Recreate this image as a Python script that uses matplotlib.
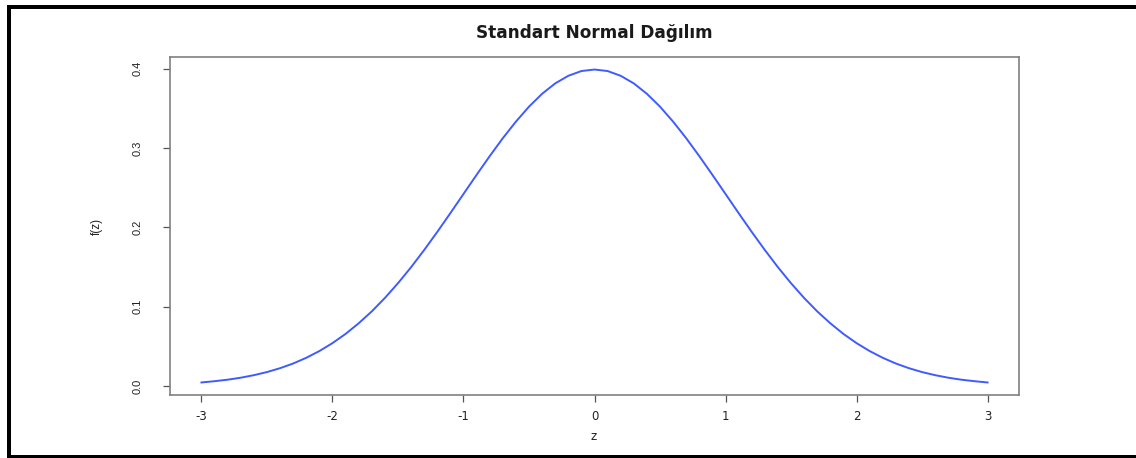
import matplotlib
matplotlib.use("Agg")
import matplotlib.pyplot as plt
from matplotlib.lines import Line2D

# z values and density values
z = [-3.0, -2.9, -2.8, -2.7, -2.6, -2.5, -2.4, -2.3, -2.2, -2.1,
     -2.0, -1.9, -1.8, -1.7, -1.6, -1.5, -1.4, -1.3, -1.2, -1.1,
     -1.0, -0.9, -0.8, -0.7, -0.6, -0.5, -0.4, -0.3, -0.2, -0.1,
     0.0,
     0.1, 0.2, 0.3, 0.4, 0.5, 0.6, 0.7, 0.8, 0.9, 1.0,
     1.1, 1.2, 1.3, 1.4, 1.5, 1.6, 1.7, 1.8, 1.9, 2.0,
     2.1, 2.2, 2.3, 2.4, 2.5, 2.6, 2.7, 2.8, 2.9, 3.0]
fz = [0.0044, 0.0060, 0.0079, 0.0104, 0.0136, 0.0175, 0.0224, 0.0283, 0.0355, 0.0440,
      0.0540, 0.0656, 0.0790, 0.0940, 0.1109, 0.1295, 0.1497, 0.1714, 0.1942, 0.2179,
      0.2420, 0.2661, 0.2897, 0.3123, 0.3332, 0.3521, 0.3683, 0.3814, 0.3910, 0.3970,
      0.3989,
      0.3970, 0.3910, 0.3814, 0.3683, 0.3521, 0.3332, 0.3123, 0.2897, 0.2661, 0.2420,
      0.2179, 0.1942, 0.1714, 0.1497, 0.1295, 0.1109, 0.0940, 0.0790, 0.0656, 0.0540,
      0.0440, 0.0355, 0.0283, 0.0224, 0.0175, 0.0136, 0.0104, 0.0079, 0.0060, 0.0044]

xticks = [-3, -2, -1, 0, 1, 2, 3]
yticks = [0.0, 0.1, 0.2, 0.3, 0.4]

plt.rcParams['font.family'] = ['Liberation Sans', 'DejaVu Sans']

W, H = 1136, 458
fig = plt.figure(figsize=(W / 100, H / 100), dpi=100)
ax = fig.add_axes([170 / W, 1 - 395 / H, (1019 - 170) / W, (395 - 57) / H])

ax.plot(z, fz, color='#3f5bff', lw=1.4)
ax.set_xlim(-3.24, 3.24)
ax.set_ylim(-0.0114, 0.4147)

ax.set_xticks(xticks)
ax.set_xticklabels([str(t) for t in xticks], family='DejaVu Sans', fontsize=8.5)
ax.set_yticks(yticks)
ax.set_yticklabels([f"{t:.1f}" for t in yticks], rotation=90, va='center', fontsize=8)
ax.tick_params(direction='out', length=5, width=0.9, color='#555555',
               labelcolor='#222222')
ax.tick_params(axis='x', pad=6)
ax.tick_params(axis='y', pad=15)

for s in ax.spines.values():
    s.set_color('#808080')
    s.set_linewidth(1.2)

fig.text(594 / W, 1 - 33 / H, 'Standart Normal Dağılım', ha='center', va='center',
         family='DejaVu Sans', fontsize=12.2, fontweight='bold', color='#1a1a1a')
fig.text(594 / W, 1 - 436 / H, 'z', ha='center', va='center',
         family='DejaVu Sans', fontsize=8.5, color='#222222')
fig.text(97 / W, 1 - 226 / H, 'f(z)', ha='center', va='center', rotation=90,
         fontsize=8.5, color='#222222')

# black frame on top, left and bottom
lw = 4 * 72 / 100
fig.add_artist(Line2D([7 / W, 1], [1 - 7 / H, 1 - 7 / H], color='black', lw=lw,
                      transform=fig.transFigure, solid_capstyle='butt'))
fig.add_artist(Line2D([9 / W, 9 / W], [1 - 5 / H, 1 - 458 / H], color='black', lw=lw,
                      transform=fig.transFigure, solid_capstyle='butt'))
fig.add_artist(Line2D([7 / W, 1], [1 - 457 / H, 1 - 457 / H], color='black', lw=lw,
                      transform=fig.transFigure, solid_capstyle='butt'))

fig.savefig('out.png', dpi=100)
